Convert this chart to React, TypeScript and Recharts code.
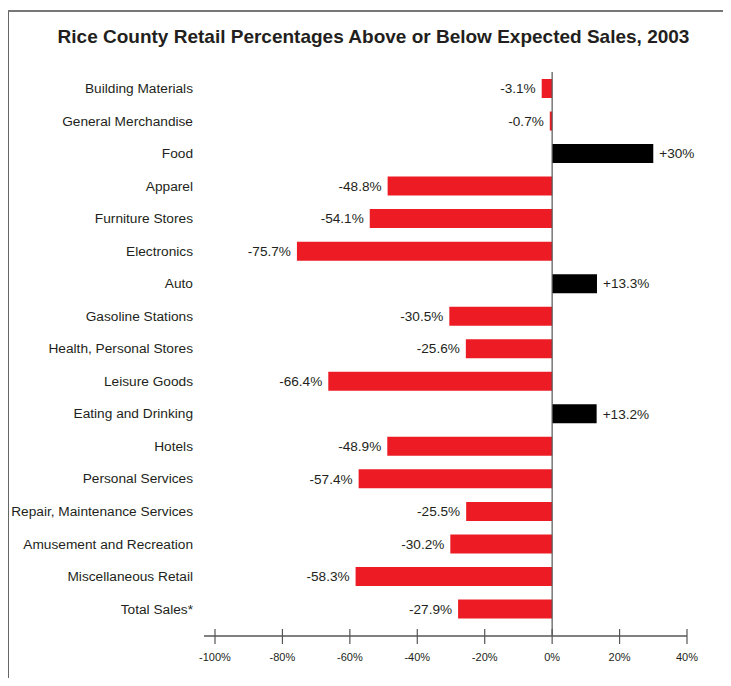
import { BarChart, Bar, XAxis, YAxis, ReferenceLine, Cell, LabelList } from "recharts";

const categories = [
  "Building Materials",
  "General Merchandise",
  "Food",
  "Apparel",
  "Furniture Stores",
  "Electronics",
  "Auto",
  "Gasoline Stations",
  "Health, Personal Stores",
  "Leisure Goods",
  "Eating and Drinking",
  "Hotels",
  "Personal Services",
  "Repair, Maintenance Services",
  "Amusement and Recreation",
  "Miscellaneous Retail",
  "Total Sales*",
];

const pctVsExpected = [
  -3.1, -0.7, 30, -48.8, -54.1, -75.7, 13.3, -30.5, -25.6, -66.4, 13.2, -48.9, -57.4, -25.5, -30.2, -58.3, -27.9,
];

const xTicks = [-100, -80, -60, -40, -20, 0, 20, 40];

const data = categories.map((name, i) => ({ name, value: pctVsExpected[i] }));

const FONT = "'Liberation Sans', Arial, Helvetica, sans-serif";
const RED = "#ED1C24";
const TEXT = "#231F20";

const fmtValue = (v: number) => (v > 0 ? `+${v}%` : `${v}%`);

function XTick(props: any) {
  const { x, y, payload } = props;
  return (
    <g>
      <line x1={x} x2={x} y1={y - 7} y2={y + 8} stroke="#555" strokeWidth={1.2} />
      <text x={x} y={y + 25} textAnchor="middle" fontSize={11} fill={TEXT} fontFamily={FONT}>
        {`${payload.value}%`}
      </text>
    </g>
  );
}

function ValueLabel(props: any) {
  const { x, y, width, height, value } = props;
  const neg = value < 0;
  const tx = neg ? x + width - 6 : x + width + 6;
  return (
    <text
      x={neg ? Math.min(tx, x - 6) : tx}
      y={y + height / 2}
      dy="0.35em"
      textAnchor={neg ? "end" : "start"}
      fontSize={13.6}
      fill={TEXT}
      fontFamily={FONT}
    >
      {fmtValue(value)}
    </text>
  );
}

export default function App() {
  return (
    <div style={{ position: "relative", margin: -8, width: 731, height: 686, background: "#fff", overflow: "hidden" }}>
      <div
        style={{
          position: "absolute",
          left: 7,
          top: 10,
          right: 0,
          bottom: 0,
          borderLeft: "2px solid #666",
          borderTop: "2px solid #777",
        }}
      />
      <div
        style={{
          position: "absolute",
          left: 8,
          width: 731,
          top: 26,
          textAlign: "center",
          fontFamily: FONT,
          fontWeight: "bold",
          fontSize: 19,
          color: TEXT,
          whiteSpace: "nowrap",
        }}
      >
        Rice County Retail Percentages Above or Below Expected Sales, 2003
      </div>
      <div style={{ position: "absolute", left: 0, top: 0 }}>
        <BarChart
          width={731}
          height={686}
          data={data}
          layout="vertical"
          margin={{ top: 72, right: 44, bottom: 20, left: 0 }}
          barSize={19}
        >
          <XAxis
            type="number"
            domain={[-100, 40]}
            ticks={xTicks}
            height={30}
            padding={{ left: 11, right: 0 }}
            axisLine={{ stroke: "#808080", strokeWidth: 2 }}
            tickLine={false}
            tickSize={0}
            tickMargin={0}
            tick={<XTick />}
            interval={0}
          />
          <YAxis
            type="category"
            dataKey="name"
            width={204}
            axisLine={false}
            tickLine={false}
            tickSize={0}
            tickMargin={11}
            padding={{ top: 0, bottom: 11 }}
            interval={0}
            tick={{ fontSize: 13.7, fill: TEXT, fontFamily: FONT }}
          />
          <Bar dataKey="value" isAnimationActive={false}>
            {data.map((d, i) => (
              <Cell key={i} fill={d.value > 0 ? "#000" : RED} />
            ))}
            <LabelList dataKey="value" content={<ValueLabel />} />
          </Bar>
          <ReferenceLine x={0} stroke="#555" strokeWidth={1.2} />
        </BarChart>
      </div>
    </div>
  );
}
